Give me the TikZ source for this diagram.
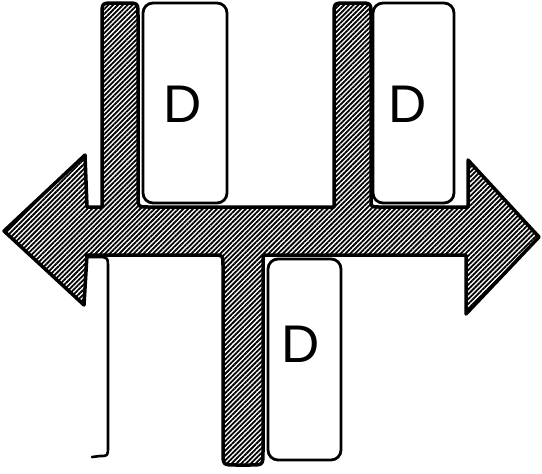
\documentclass[tikz,border=0pt]{standalone}
\usepackage{fontspec}
\setmainfont{Liberation Sans}
\usetikzlibrary{patterns.meta}
\begin{document}
\begin{tikzpicture}[x=1pt,y=-1pt,
  hatched/.style={draw=black, line width=3.5pt, line join=round,
    pattern={Lines[angle=45,distance=3.4pt,line width=1.8pt]}},
  dbox/.style={draw=black, line width=2.8pt, rounded corners=10pt, fill=white,
    inner sep=0pt},
  dlabel/.style={font=\fontsize{53}{53}\selectfont, inner sep=0pt},
  bracket/.style={draw=black, line width=2.6pt, line cap=round, line join=round}
]
\useasboundingbox (0,0) rectangle (542,474);
% hatched double-headed arrow with three stems
\draw[hatched]
  (4,231) -- (85,155) -- (87,207) -- (102,207)
  -- (102,15) .. controls (102,3) .. (114,3) -- (126,3) .. controls (138,3) .. (138,15)
  -- (138,197) .. controls (138,207) .. (148,207)
  -- (334,207)
  -- (334,15) .. controls (334,3) .. (346,3) -- (359,3) .. controls (371,3) .. (371,15)
  -- (371,199) .. controls (371,207) .. (379,207)
  -- (468,207) -- (468,160) -- (539,237) -- (466,314) -- (466,255)
  -- (263,255)
  -- (263,452) .. controls (263,465) .. (250,465) -- (236,465) .. controls (223,465) .. (223,452)
  -- (223,265) .. controls (223,255) .. (213,255)
  -- (87,255) -- (84,305) -- cycle;
% D boxes
\node[dbox, minimum width=84pt, minimum height=200pt] (b1) at (185,103) {};
\node[dbox, minimum width=81pt, minimum height=200pt] (b2) at (413.5,103) {};
\node[dbox, minimum width=73pt, minimum height=201pt] (b3) at (304.5,359.5) {};
\node[dlabel] (d1) at (183,104) {D};
\node[dlabel] (d2) at (408,104) {D};
\node[dlabel] (d3) at (301,344) {D};
% partial box at lower left
\coordinate (p1) at (88,257);
\coordinate (p2) at (92,457);
\draw[bracket] (p1) -- (97,257) .. controls (108,257) .. (108,269)
  -- (108,446) .. controls (108,456) .. (100,456) -- (p2);
\end{tikzpicture}
\end{document}
